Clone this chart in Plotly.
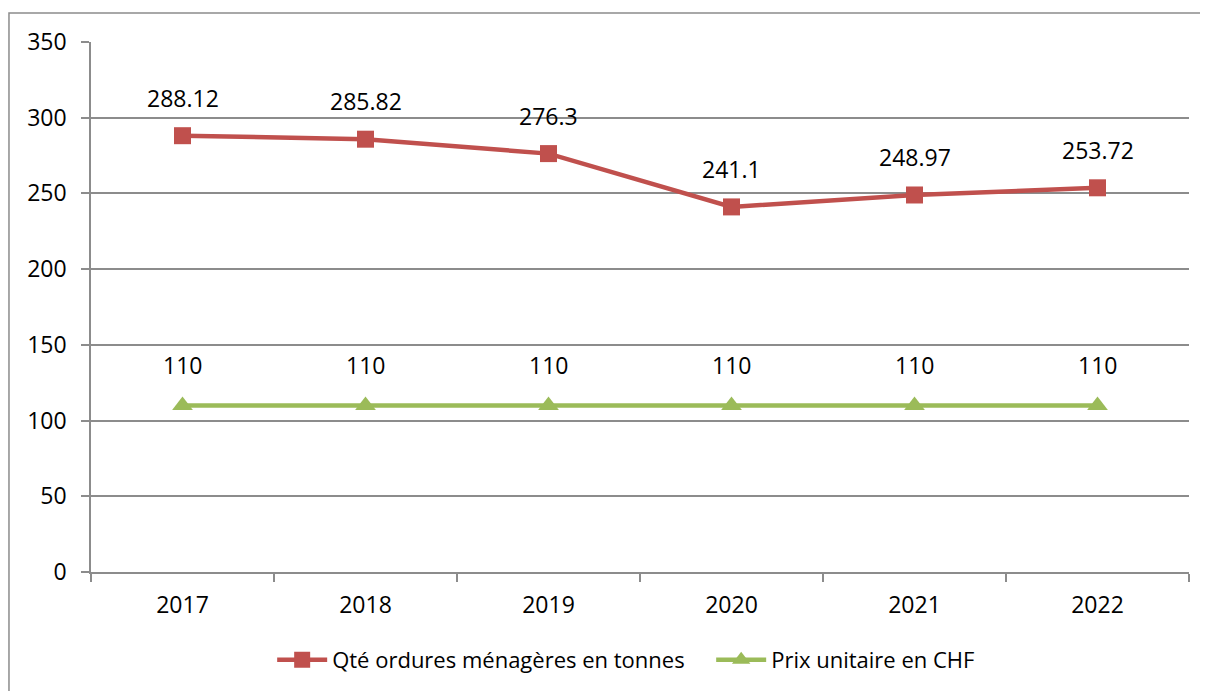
import plotly.graph_objects as go

years = ["2017", "2018", "2019", "2020", "2021", "2022"]
qte = [288.12, 285.82, 276.3, 241.1, 248.97, 253.72]
qte_labels = ["288.12", "285.82", "276.3", "241.1", "248.97", "253.72"]
prix = [110, 110, 110, 110, 110, 110]
prix_labels = ["110", "110", "110", "110", "110", "110"]

RED = "#C0504D"
GREEN = "#9BBB59"
GRID = "#8C8C8C"
FONT = "Open Sans"

fig = go.Figure()
fig.add_trace(go.Scatter(
    x=years, y=qte, mode="lines+markers", name="Qté ordures ménagères en tonnes",
    line=dict(color=RED, width=4.5),
    marker=dict(symbol="square", size=17, color=RED),
))
fig.add_trace(go.Scatter(
    x=years, y=prix, mode="lines+markers", name="Prix unitaire en CHF",
    line=dict(color=GREEN, width=4.5),
    marker=dict(symbol="triangle-up", size=18, color=GREEN),
))

annotations = []
for i, (y, t) in enumerate(zip(qte, qte_labels)):
    annotations.append(dict(x=i, y=y, xref="x", yref="y", text=t, showarrow=False,
                            yshift=38, font=dict(size=23, color="black", family=FONT)))
for i, (y, t) in enumerate(zip(prix, prix_labels)):
    annotations.append(dict(x=i, y=y, xref="x", yref="y", text=t, showarrow=False,
                            yshift=40, font=dict(size=23, color="black", family=FONT)))

fig.add_shape(type="rect", xref="paper", yref="paper",
              x0=-0.0747, x1=1.05, y0=-0.4, y1=1.0547,
              line=dict(color="#8C8C8C", width=1.5), fillcolor="rgba(0,0,0,0)",
              layer="below")

fig.update_layout(
    width=1208, height=691,
    margin=dict(l=83, r=27, t=34, b=127),
    paper_bgcolor="white", plot_bgcolor="white",
    font=dict(family=FONT, size=23, color="black"),
    annotations=annotations,
    showlegend=True,
    legend=dict(orientation="h", x=0.165, xanchor="left", y=-0.166, yanchor="middle",
                font=dict(size=22, family=FONT), itemwidth=50,
                entrywidth=374, entrywidthmode="pixels",
                bgcolor="rgba(0,0,0,0)", tracegroupgap=0),
    xaxis=dict(type="category", range=[-0.5, 5.5], showgrid=False,
               showline=True, linecolor=GRID, linewidth=1.5,
               ticks="outside", ticklen=8, tickcolor=GRID, tickwidth=1.5,
               tickson="boundaries", ticklabelstandoff=12,
               tickfont=dict(size=23), zeroline=False),
    yaxis=dict(range=[0, 350], dtick=50, showgrid=True, gridcolor=GRID, gridwidth=1.5,
               showline=True, linecolor=GRID, linewidth=1.5,
               ticks="outside", ticklen=8, tickcolor=GRID, tickwidth=1.5,
               ticklabelstandoff=10,
               tickfont=dict(size=23), zeroline=False),
)

fig.write_html("out.html")
